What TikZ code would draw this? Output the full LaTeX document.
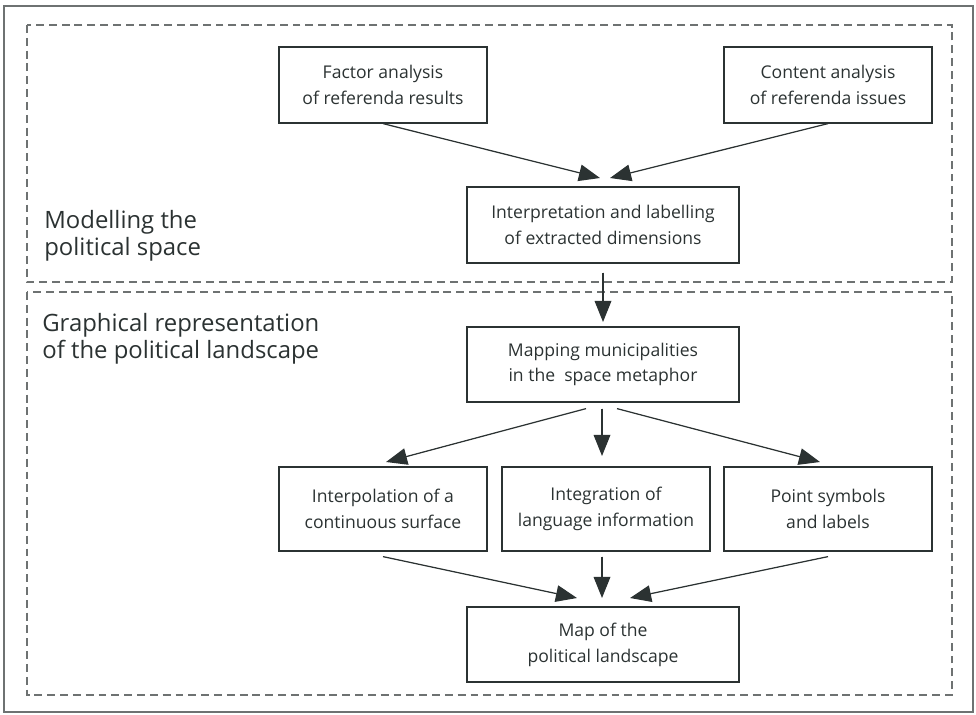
\documentclass[tikz,border=0pt]{standalone}
\usepackage{fontspec}
\setmainfont{Open Sans}
\usetikzlibrary{arrows.meta,positioning}

\definecolor{inkgray}{HTML}{2B3232}
\definecolor{framegray}{HTML}{6E7272}

\tikzset{
  stepbox/.style={draw=inkgray, line width=0.7pt, align=center, inner sep=2pt,
    minimum width=4.16cm, minimum height=1.52cm,
    font=\fontsize{10}{14.7}\selectfont, text=inkgray},
  widebox/.style={stepbox, minimum width=5.44cm},
  flow/.style={draw=inkgray, line width=0.7pt,
    -{Triangle[length=12pt,width=9.5pt]}, fill=inkgray},
  zone/.style={draw=framegray, line width=0.6pt, dash pattern=on 4.5pt off 2.8pt},
  zonelabel/.style={anchor=north west, align=left, text=inkgray, inner sep=0pt,
    font=\fontsize{13.6}{15.4}\selectfont}
}

\begin{document}
\begin{tikzpicture}[x=0.02cm,y=-0.02cm]
  \useasboundingbox (0,0) rectangle (976,714);
  % outer frame and the two zones
  \draw[framegray, line width=0.8pt] (4,6) rectangle (973,712);
  \draw[zone] (27,25) rectangle (952,282);
  \draw[zone] (27,292) rectangle (952,695);
  \node[zonelabel] (lblspace) at (44,210) {Modelling the\\political space};
  \node[zonelabel] (lblland) at (42,313) {Graphical representation\\of the political landscape};

  % boxes
  \node[stepbox] (factor) at (383,85) {Factor analysis\\of referenda results};
  \node[stepbox] (content) at (828,85) {Content analysis\\of referenda issues};
  \node[widebox] (interp) at (603,225) {Interpretation and labelling\\of extracted dimensions};
  \node[widebox, minimum height=1.5cm] (mapping) at (603,364.5)
    {Mapping municipalities\\in the\ \ space metaphor};
  \node[stepbox, minimum height=1.68cm] (interpol) at (383,509) {Interpolation of a\\continuous surface};
  \node[stepbox, minimum height=1.68cm] (integr) at (606,509) {Integration of\\language information};
  \node[stepbox, minimum height=1.68cm] (points) at (828,509) {Point symbols\\and labels};
  \node[widebox, minimum height=1.5cm] (mapres) at (603,644.5)
    {Map of the\\political landscape};

  % arrow ends
  \coordinate (a1) at (600,178);
  \coordinate (a2) at (610,178);
  \coordinate (b1) at (603,322);
  \coordinate (c1) at (386,462);
  \coordinate (c2) at (602,456);
  \coordinate (c3) at (820,462);
  \coordinate (d1) at (577,598);
  \coordinate (d2) at (602,598);
  \coordinate (d3) at (630,598);

  \draw[flow] (factor.south) -- (a1);
  \draw[flow] (content.south) -- (a2);
  \draw[flow] ([yshift=-0.18cm]interp.south) -- (b1);
  \draw[flow] ([xshift=-0.34cm,yshift=-0.12cm]mapping.south) -- (c1);
  \draw[flow] ([yshift=-0.12cm]mapping.south -| c2) -- (c2);
  \draw[flow] ([xshift=0.28cm,yshift=-0.12cm]mapping.south) -- (c3);
  \draw[flow] ([yshift=-0.1cm]interpol.south) -- (d1);
  \draw[flow] ([yshift=-0.1cm]integr.south -| d2) -- (d2);
  \draw[flow] ([yshift=-0.1cm]points.south) -- (d3);
\end{tikzpicture}
\end{document}
